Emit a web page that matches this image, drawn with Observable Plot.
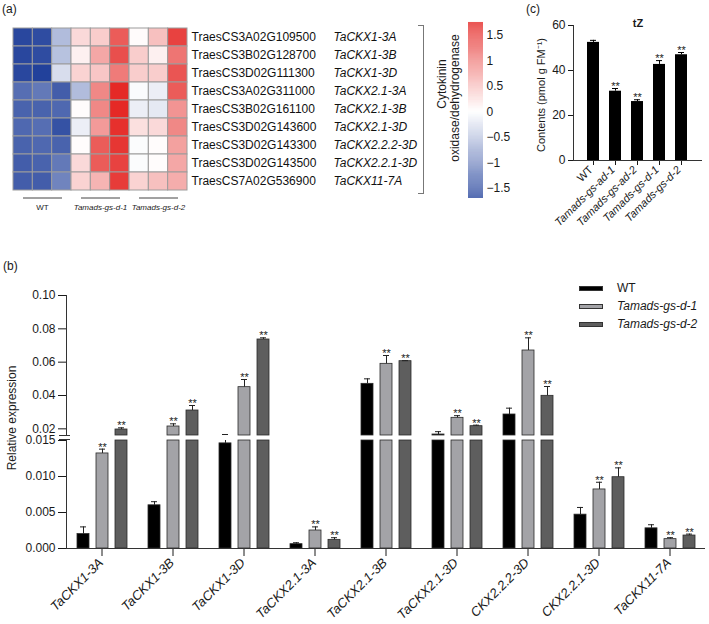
<!DOCTYPE html>
<html><head><meta charset="utf-8">
<script src="https://cdn.jsdelivr.net/npm/d3@7"></script>
<script src="https://cdn.jsdelivr.net/npm/@observablehq/plot@0.6"></script>
<style>
body{margin:0;background:#fff;font-family:"Liberation Sans",Arial,sans-serif;}
#fig{position:relative;width:709px;height:624px;overflow:hidden;background:#fff;}
#fig svg{position:absolute;overflow:visible !important;}
.lbl{position:absolute;white-space:nowrap;color:#1a1a1a;font-size:12px;line-height:1;}
.rot{transform:translate(-50%,-50%) rotate(-90deg);}
</style></head><body><div id="fig"></div>
<script>
// ---------- Panel (a) heatmap data ----------
const heatGeneIds = ["TraesCS3A02G109500","TraesCS3B02G128700","TraesCS3D02G111300","TraesCS3A02G311000","TraesCS3B02G161100","TraesCS3D02G143600","TraesCS3D02G143300","TraesCS3D02G143500","TraesCS7A02G536900"];
const heatGeneNames = ["TaCKX1-3A","TaCKX1-3B","TaCKX1-3D","TaCKX2.1-3A","TaCKX2.1-3B","TaCKX2.1-3D","TaCKX2.2.2-3D","TaCKX2.2.1-3D","TaCKX11-7A"];
const heatGroups = ["WT","Tamads-gs-d-1","Tamads-gs-d-2"];
const heatValues = [
  [-1.65,-1.60,-0.60, 0.30, 0.40, 1.30, 0.03, 0.50, 1.50],
  [-1.65,-1.60,-0.55, 0.12, 0.70, 1.40, 0.40, 0.12, 1.10],
  [-1.65,-1.70,-0.30, 0.35, 0.45, 1.05, 0.40, 0.40, 1.35],
  [-1.30,-1.20,-1.45,-0.60, 0.95, 1.70,-0.04,-0.15, 1.30],
  [-1.40,-1.40,-1.35, 0.02, 0.95, 1.70,-0.15,-0.20, 0.85],
  [-1.35,-1.30,-1.55,-0.15, 0.80, 1.65, 0.25, 0.30, 0.95],
  [-1.40,-1.35,-1.40, 0.02, 1.30, 1.60,-0.03, 0.02, 0.75],
  [-1.45,-1.40,-1.20, 0.30, 1.30, 1.50,-0.03, 0.02, 0.70],
  [-1.45,-1.45,-1.10, 0.35, 0.60, 1.55, 0.35, 0.50, 0.65]
];
const legendTicks = [-1.5,-1,-0.5,0,0.5,1,1.5];
const legendTitle = ["Cytokinin","oxidase/dehydrogenase"];

// ---------- Panel (b) expression data ----------
const genes = ["TaCKX1-3A","TaCKX1-3B","TaCKX1-3D","TaCKX2.1-3A","TaCKX2.1-3B","TaCKX2.1-3D","CKX2.2.2-3D","CKX2.2.1-3D","TaCKX11-7A"];
const series = ["WT","Tamads-gs-d-1","Tamads-gs-d-2"];
const wtExpr = [0.0020,0.0060,0.0146,0.0006,0.0470,0.0166,0.0286,0.0047,0.0028];
const wtErr  = [0.0010,0.0005,0.0020,0.0002,0.0030,0.0017,0.0038,0.0010,0.0005];
const d1Expr = [0.0132,0.0214,0.0450,0.0025,0.0590,0.0266,0.0670,0.0082,0.0013];
const d1Err  = [0.0006,0.0016,0.0046,0.0005,0.0050,0.0013,0.0076,0.0010,0.0002];
const d2Expr = [0.0196,0.0310,0.0736,0.0012,0.0606,0.0216,0.0398,0.0099,0.0018];
const d2Err  = [0.0010,0.0030,0.0010,0.0003,0.0003,0.0006,0.0056,0.0013,0.0002];
const d1Sig = ["**","**","**","**","**","**","**","**","**"];
const d2Sig = ["**","**","**","**","**","**","**","**","**"];
const upperTicks = [0.02,0.04,0.06,0.08,0.10];
const lowerTicks = [0,0.005,0.010,0.015];
const breakLow = 0.015, breakHigh = 0.016;
const yTitleB = "Relative expression";

// ---------- Panel (c) tZ data ----------
const tzLines = ["WT","Tamads-gs-ad-1","Tamads-gs-ad-2","Tamads-gs-d-1","Tamads-gs-d-2"];
const tzValues = [52.5,30.8,26.2,42.7,47.0];
const tzErr = [0.9,1.2,0.8,1.7,1.0];
const tzSig = ["","**","**","**","**"];
const tzTicks = [0,20,40,60];
const tzTitle = "tZ";
const yTitleC = "Contents (pmol g FM\u207B\u00B9)";

// ---------- styles ----------
const heatColors = ["#22419b","#ffffff","#e42320"];
const barColors = ["#000000","#a3a3a7","#5e5e5e"];
const FONT = '"Liberation Sans",Arial,sans-serif';
const baseStyle = {background:"transparent", overflow:"visible", fontFamily:FONT, fontSize:"12px", color:"#1a1a1a"};

const fig = document.getElementById("fig");
function place(el, left, top){ el.style.position="absolute"; el.style.left=left+"px"; el.style.top=top+"px"; fig.appendChild(el); return el; }
function label(txt, x, y, extra={}, cls=""){ const d=document.createElement("div"); d.className="lbl "+cls; d.textContent=txt; d.style.left=x+"px"; d.style.top=y+"px"; Object.assign(d.style, extra); fig.appendChild(d); return d; }
function line(x, y, w, h, color){ const d=document.createElement("div"); Object.assign(d.style,{position:"absolute",left:x+"px",top:y+"px",width:w+"px",height:h+"px",background:color}); fig.appendChild(d); return d; }

const colorScale = {type:"linear", domain:[-1.7,0,1.75], range:heatColors};

// ---------- (a) heatmap ----------
const cells = heatValues.flatMap((row,i)=>row.map((v,j)=>({gene:heatGeneIds[i], col:j, v})));
const lastGene = heatGeneIds[heatGeneIds.length-1];
const heat = Plot.plot({
  width:440, height:223, marginLeft:13, marginRight:253, marginTop:24, marginBottom:30,
  style: baseStyle,
  x:{domain:[0,9], axis:null},
  y:{domain:heatGeneIds, axis:null, padding:0},
  color: colorScale,
  marks:[
    Plot.barX(cells, {x1:"col", x2:d=>d.col+1, y:"gene", fill:"v", stroke:"#9c9c9c", strokeWidth:1}),
    Plot.text(heatGeneIds, {y:d=>d, frameAnchor:"right", textAnchor:"start", dx:4, fontSize:12, fill:"#111"}),
    Plot.text(heatGeneIds, {y:d=>d, text:(d,i)=>heatGeneNames[i], frameAnchor:"right", textAnchor:"start", dx:146, fontSize:12, fontStyle:"italic", fill:"#111"}),
    Plot.ruleY(heatGroups, {x1:(d,i)=>3*i, x2:(d,i)=>3*i+3, y:()=>lastGene, dy:16.5, insetLeft:10, insetRight:9, stroke:"#444"}),
    Plot.text(heatGroups.filter(g=>g==="WT"), {x:()=>1.5, y:()=>lastGene, dy:26, fontSize:8, fill:"#222"}),
    Plot.text(heatGroups.filter(g=>g!=="WT"), {x:d=>3*heatGroups.indexOf(d)+1.5, y:()=>lastGene, dy:26, fontSize:8, fontStyle:"italic", fill:"#222"})
  ]
});
place(heat, 0, 0);

// bracket
const br = document.createElement("div");
Object.assign(br.style,{position:"absolute",left:"418px",top:"25px",width:"5px",height:"167px",border:"1px solid #777",borderLeft:"none"});
fig.appendChild(br);

// colour legend
const steps = d3.range(-1.7, 1.75, 0.01);
const legend = Plot.plot({
  width:80, height:210, marginLeft:28, marginRight:37, marginTop:22, marginBottom:12,
  style: baseStyle,
  x:{domain:[0,1], axis:null},
  y:{domain:[-1.7,1.75], axis:"right", ticks:legendTicks, tickSize:0, tickPadding:3, label:null,
     tickFormat:d=>(d<0?"\u2212":"")+Math.abs(d)},
  color: colorScale,
  marks:[
    Plot.rect(steps, {x1:0, x2:1, y1:d=>d, y2:d=>d+0.0105, fill:d=>d})
  ]
});
place(legend, 440, 0);
label(legendTitle[0], 442, 84, {}, "rot");
label(legendTitle[1], 455, 98, {}, "rot");

// ---------- (c) tZ ----------
const tz = tzLines.map((l,i)=>({line:l, value:tzValues[i], err:tzErr[i], sig:tzSig[i], top:tzValues[i]+tzErr[i]}));
const pc = Plot.plot({
  width:182, height:240, marginLeft:46, marginRight:7, marginTop:15, marginBottom:90,
  style: baseStyle,
  x:{domain:tzLines, paddingInner:0.435, paddingOuter:0.54, tickSize:5, tickFormat:()=>"", label:null},
  y:{domain:[0,60], ticks:tzTicks, tickSize:5, tickPadding:3, label:null},
  marks:[
    Plot.barY(tz, {x:"line", y:"value", fill:"#000"}),
    Plot.ruleX(tz, {x:"line", y1:"value", y2:"top", stroke:"#000"}),
    Plot.tickY(tz, {x:"line", y:"top", insetLeft:3, insetRight:3, stroke:"#000"}),
    Plot.text(tz, {x:"line", y:"top", text:"sig", dy:-2, fontSize:11}),
    Plot.ruleY([0], {stroke:"#333"}),
    Plot.frame({anchor:"left", stroke:"#333"}),
    Plot.text([tzTitle], {frameAnchor:"top", dy:-6, fontWeight:"bold", fontSize:11}),
    Plot.text(tz.filter(d=>d.line==="WT"), {x:"line", text:"line", frameAnchor:"bottom", dy:10, rotate:-45, textAnchor:"end", fontSize:11}),
    Plot.text(tz.filter(d=>d.line!=="WT"), {x:"line", text:"line", frameAnchor:"bottom", dy:10, rotate:-45, textAnchor:"end", fontSize:11, fontStyle:"italic"})
  ]
});
place(pc, 527, 10);
label(yTitleC, 541, 95, {fontSize:"11px"}, "rot");

// ---------- (b) expression with broken axis ----------
const sigs = [genes.map(()=>""), d1Sig, d2Sig];
const exprs = [wtExpr, d1Expr, d2Expr];
const errs = [wtErr, d1Err, d2Err];
const rows = genes.flatMap((g,i)=>series.map((s,k)=>({gene:g, series:s, value:exprs[k][i], err:errs[k][i], sig:sigs[k][i], top:exprs[k][i]+errs[k][i]})));

const common = {
  width:709, marginLeft:64, marginRight:3,
  style: baseStyle,
  x:{domain:series, paddingInner:0.375, paddingOuter:0.47, axis:null},
  color:{domain:series, range:barColors}
};

const upRows = rows.filter(r=>r.top>breakHigh);
const upper = Plot.plot({
  ...common, height:150, marginTop:10, marginBottom:0,
  fx:{domain:genes, padding:0, axis:null},
  y:{domain:[breakHigh,0.10], clamp:true, axis:null},
  marks:[
    Plot.axisY({facetAnchor:"left", ticks:upperTicks, tickFormat:d3.format(".2f"), tickSize:8, tickPadding:3, label:null}),
    Plot.barY(rows.filter(r=>r.value>breakHigh), {fx:"gene", x:"series", y1:()=>breakHigh, y2:"value", fill:"series", stroke:"#2a2a2a", strokeWidth:0.8}),
    Plot.ruleX(upRows, {fx:"gene", x:"series", y1:d=>Math.max(d.value,breakHigh), y2:"top", stroke:"#222"}),
    Plot.tickY(upRows, {fx:"gene", x:"series", y:"top", insetLeft:3, insetRight:3, stroke:"#222"}),
    Plot.text(upRows.filter(r=>r.sig), {fx:"gene", x:"series", y:"top", text:"sig", dy:-2, fontSize:11}),
    Plot.frame({anchor:"left", facet:"super", stroke:"#333"})
  ]
});
place(upper, 0, 285);

const lower = Plot.plot({
  ...common, height:188, marginTop:4, marginBottom:76,
  fx:{domain:genes, padding:0, tickSize:8, tickFormat:()=>"", label:null},
  y:{domain:[0,breakLow], clamp:true, axis:null},
  marks:[
    Plot.axisY({facetAnchor:"left", ticks:lowerTicks, tickFormat:d3.format(".3f"), tickSize:8, tickPadding:3, label:null}),
    Plot.barY(rows, {fx:"gene", x:"series", y1:()=>0, y2:d=>Math.min(d.value,breakLow), fill:"series", stroke:"#2a2a2a", strokeWidth:0.8}),
    Plot.ruleX(rows.filter(r=>r.value<breakLow), {fx:"gene", x:"series", y1:"value", y2:d=>Math.min(d.top,breakLow), stroke:"#222"}),
    Plot.tickY(rows.filter(r=>r.top<=breakLow), {fx:"gene", x:"series", y:"top", insetLeft:3, insetRight:3, stroke:"#222"}),
    Plot.text(rows.filter(r=>r.top<=breakLow && r.sig), {fx:"gene", x:"series", y:"top", text:"sig", dy:-2, fontSize:11}),
    Plot.ruleY([0], {stroke:"#333"}),
    Plot.frame({anchor:"left", facet:"super", stroke:"#333"}),
    Plot.text(genes, {fx:d=>d, text:d=>d, frameAnchor:"bottom", dy:15, dx:2, rotate:-45, textAnchor:"end", fontSize:13, fontStyle:"italic"})
  ]
});
place(lower, 0, 436);

// break marks on the axis
line(59, 435, 11, 1, "#333");
line(59, 439, 11, 1, "#333");

// legend for (b)
series.forEach((s,k)=>{
  const yc = 288 + k*18;
  const sw = document.createElement("div");
  Object.assign(sw.style,{position:"absolute",left:"579px",top:(yc-2.5)+"px",width:"24px",height:"5px",background:barColors[k],boxSizing:"border-box",border:"1px solid #333"});
  fig.appendChild(sw);
  label(s, 617, yc-6, {fontStyle: k===0?"normal":"italic"});
});

// titles and panel letters
label("(a)", 2, 3);
label("(b)", 3, 260);
label("(c)", 526, 3);
label(yTitleB, 12, 418, {}, "rot");
</script></body></html>
